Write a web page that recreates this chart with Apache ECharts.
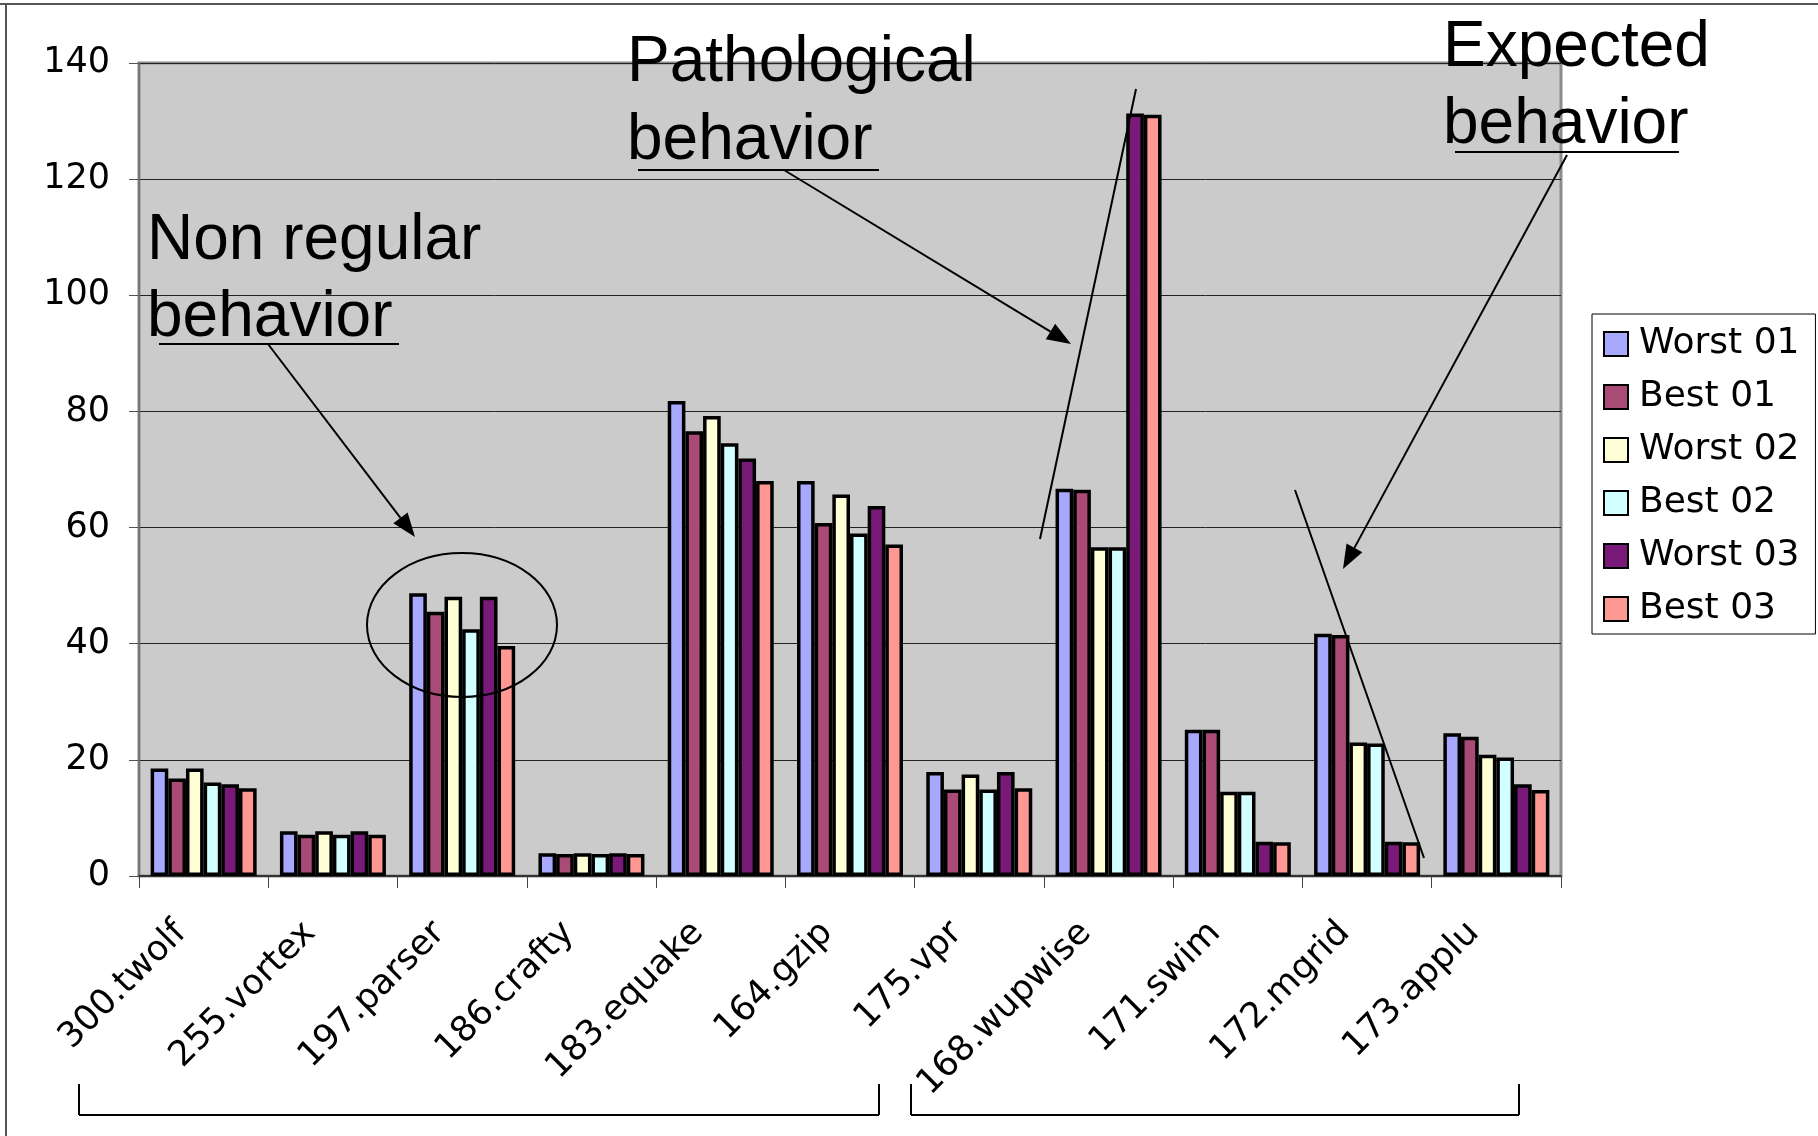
<!DOCTYPE html>
<html>
<head>
<meta charset="utf-8">
<script src="https://cdn.jsdelivr.net/npm/echarts@6/dist/echarts.min.js"></script>
<style>
  html, body { margin: 0; padding: 0; background: #fff; }
  #chart { width: 1818px; height: 1136px; }
</style>
</head>
<body>
<div id="chart"></div>
<script>
const categories = ['300.twolf', '255.vortex', '197.parser', '186.crafty', '183.equake', '164.gzip',
  '175.vpr', '168.wupwise', '171.swim', '172.mgrid', '173.applu']
const yTicks = [0, 20, 40, 60, 80, 100, 120, 140]

const worst01 = [18.5, 7.7, 48.7, 3.9, 81.8, 68.0, 17.9, 66.7, 25.2, 41.7, 24.6]
const best01 = [16.8, 7.1, 45.5, 3.8, 76.6, 60.8, 14.9, 66.5, 25.2, 41.5, 24.0]
const worst02 = [18.5, 7.7, 48.1, 3.9, 79.2, 65.7, 17.5, 56.6, 14.5, 23.0, 20.9]
const best02 = [16.1, 7.1, 42.5, 3.8, 74.5, 59.0, 14.9, 56.6, 14.5, 22.8, 20.4]
const worst03 = [15.8, 7.7, 48.1, 3.9, 71.9, 63.7, 17.9, 131.3, 5.9, 5.9, 15.8]
const best03 = [15.1, 7.1, 39.6, 3.8, 68.0, 57.1, 15.1, 131.1, 5.8, 5.8, 14.8]

const seriesNames = ['Worst 01', 'Best 01', 'Worst 02', 'Best 02', 'Worst 03', 'Best 03']
const seriesData = [worst01, best01, worst02, best02, worst03, best03]
const seriesColors = ['#A8A8FF', '#AA4A77', '#FFFFD6', '#D2FFFF', '#7A1A78', '#FF9893']

const FONT = '"DejaVu Sans", Verdana, sans-serif'
const NOTE_FONT = '64px "Liberation Sans", Arial, sans-serif'

// arrow = line + filled head
function arrow(x1, y1, x2, y2) {
  const a = Math.atan2(y2 - y1, x2 - x1)
  const L = 24
  const W = 9
  const bx = x2 - L * Math.cos(a)
  const by = y2 - L * Math.sin(a)
  return [
    { type: 'line', z: 100, shape: { x1, y1, x2: bx, y2: by }, style: { stroke: '#000', lineWidth: 2 } },
    {
      type: 'polygon', z: 100,
      shape: { points: [[x2, y2], [bx + W * Math.sin(a), by - W * Math.cos(a)], [bx - W * Math.sin(a), by + W * Math.cos(a)]] },
      style: { fill: '#000' },
    },
  ]
}

function line(x1, y1, x2, y2, w) {
  return { type: 'line', z: 100, shape: { x1, y1, x2, y2 }, style: { stroke: '#000', lineWidth: w || 2 } }
}

function note(text, x, y) {
  return { type: 'text', z: 100, x, y, style: { text, font: NOTE_FONT, fill: '#000', verticalAlign: 'middle' } }
}

const chart = echarts.init(document.getElementById('chart'))

const option = {
  animation: false,
  backgroundColor: '#fff',
  grid: {
    left: 139, right: 257, top: 63, bottom: 260,
    show: true, backgroundColor: '#CBCBCB', borderColor: '#8C8C8C', borderWidth: 3,
  },
  legend: {
    orient: 'vertical',
    left: 1592, top: 314,
    padding: [12, 16, 7, 11],
    backgroundColor: '#fff',
    borderColor: '#000', borderWidth: 1,
    itemWidth: 24, itemHeight: 24, itemGap: 17,
    icon: 'rect',
    textStyle: { fontFamily: FONT, fontSize: 36, color: '#000', padding: [0, 0, 0, 6] },
    data: seriesNames,
  },
  xAxis: {
    type: 'category',
    data: categories,
    axisLine: { lineStyle: { color: '#333', width: 2 } },
    axisTick: { show: true, length: 12, lineStyle: { color: '#444', width: 1 } },
    axisLabel: {
      rotate: 45, margin: 29, padding: [0, 32, 0, 0],
      fontFamily: FONT, fontSize: 35, color: '#000', interval: 0,
    },
  },
  yAxis: {
    type: 'value',
    min: 0, max: 140, interval: 20,
    axisLine: { show: true, lineStyle: { color: '#777', width: 2 } },
    axisTick: { show: true, length: 10, lineStyle: { color: '#555' } },
    axisLabel: {
      margin: 29, fontFamily: FONT, fontSize: 35, color: '#000',
      formatter: v => (yTicks.includes(v) ? String(v) : ''),
    },
    splitLine: { show: true, lineStyle: { color: '#222', width: 1 } },
  },
  series: seriesNames.map((name, i) => ({
    name: name,
    type: 'bar',
    data: seriesData[i],
    barGap: '0%',
    barCategoryGap: '18%',
    itemStyle: { color: seriesColors[i], borderColor: '#000', borderWidth: 3.5 },
  })),
  graphic: [
    // outer frame (top + left)
    { type: 'line', z: 100, shape: { x1: 0, y1: 4, x2: 1818, y2: 4 }, style: { stroke: '#555', lineWidth: 2 } },
    { type: 'line', z: 100, shape: { x1: 6, y1: 4, x2: 6, y2: 1136 }, style: { stroke: '#555', lineWidth: 2 } },

    note('Non regular', 147, 241),
    note('behavior', 147, 318),
    line(159, 344, 399, 344),
    ...arrow(268, 344, 415, 537),
    { type: 'ellipse', z: 100, shape: { cx: 462, cy: 625, rx: 95, ry: 72 }, style: { fill: null, stroke: '#000', lineWidth: 2 } },

    note('Pathological', 627, 63),
    note('behavior', 627, 141),
    line(638, 170, 879, 170),
    ...arrow(784, 170, 1071, 344),
    line(1040, 539, 1136, 89),

    note('Expected', 1443, 48),
    note('behavior', 1443, 125),
    line(1455, 152, 1679, 152),
    ...arrow(1567, 155, 1343, 569),
    line(1295, 490, 1424, 858),

    // brackets under the labels
    line(79, 1084, 79, 1115),
    line(79, 1115, 879, 1115),
    line(879, 1084, 879, 1115),
    line(911, 1084, 911, 1115),
    line(911, 1115, 1519, 1115),
    line(1519, 1084, 1519, 1115),
  ],
}

chart.setOption(option)
</script>
</body>
</html>
